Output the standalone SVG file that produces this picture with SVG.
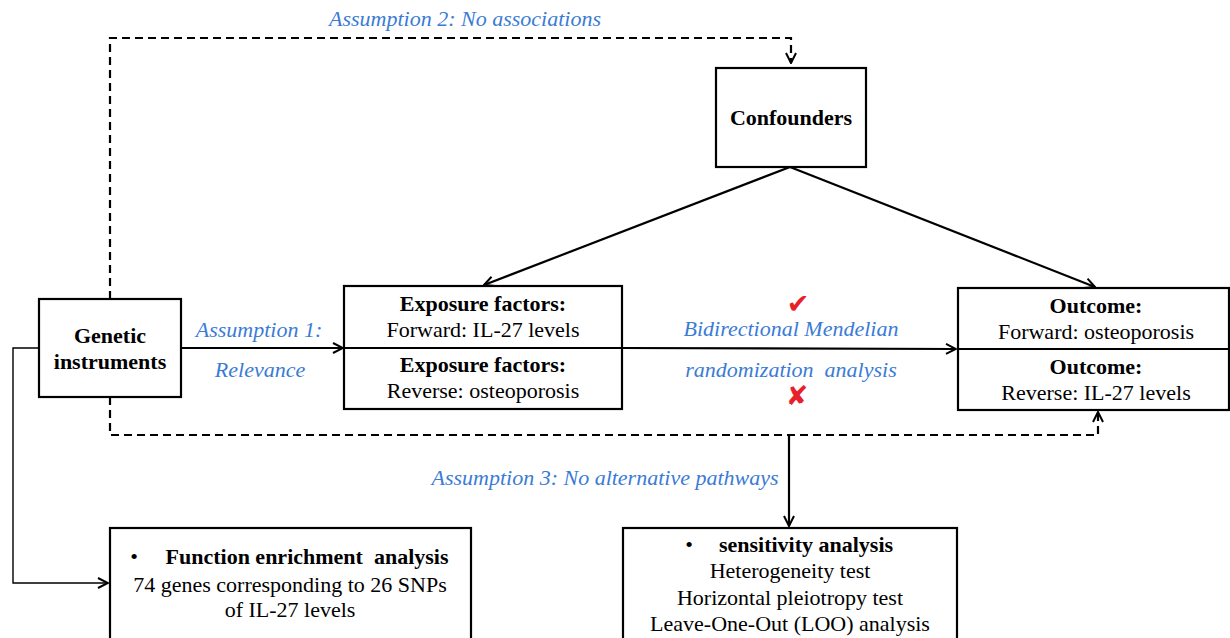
<svg xmlns="http://www.w3.org/2000/svg" width="1230" height="638" viewBox="0 0 1230 638">
<defs>
<style>
.box{fill:#fff;stroke:#000;stroke-width:2.2}
.t{font-family:"Liberation Serif","Times New Roman",serif;font-size:22px;fill:#000;text-anchor:middle}
.b{font-weight:bold}
.a{font-family:"Liberation Serif","Times New Roman",serif;font-size:22px;font-style:italic;fill:#3a7bd5;text-anchor:middle}
.ln{fill:none;stroke:#000;stroke-width:2.2}
.dash{fill:none;stroke:#000;stroke-width:2.2;stroke-dasharray:8,5}
.mk{font-family:"DejaVu Sans",sans-serif;font-size:27px;fill:#e8202a;text-anchor:middle}
</style>
<marker id="arr" viewBox="0 0 12 12" refX="11" refY="6" markerWidth="12" markerHeight="12" markerUnits="userSpaceOnUse" orient="auto">
<polyline points="1,1 11,6 1,11" fill="none" stroke="#000" stroke-width="2"/>
</marker>
</defs>
<rect width="1230" height="638" fill="#fff"/>

<g id="connectors">
<polyline class="dash" points="110,299 110,38 791,38 791,63" marker-end="url(#arr)"/>
<polyline class="dash" points="110,397 110,435 1098,435 1098,412" marker-end="url(#arr)"/>
<line class="ln" x1="181" y1="348" x2="343" y2="348" marker-end="url(#arr)"/>
<line class="ln" x1="622" y1="348" x2="956" y2="349" marker-end="url(#arr)"/>
<line class="ln" x1="790" y1="167" x2="484" y2="285" marker-end="url(#arr)"/>
<line class="ln" x1="790" y1="167" x2="1095" y2="287" marker-end="url(#arr)"/>
<line class="ln" x1="789" y1="435" x2="789" y2="526" marker-end="url(#arr)"/>
<polyline fill="none" stroke="#000" stroke-width="1.4" points="39,348 13,348 13,583 108,583" marker-end="url(#arr)"/>
</g>

<g id="labels">
<text class="a" x="465" y="26">Assumption 2: No associations</text>
<text class="a" x="259" y="337">Assumption 1:</text>
<text class="a" x="260" y="377">Relevance</text>
<text class="a" x="791" y="336">Bidirectional Mendelian</text>
<text class="a" x="791" y="377" xml:space="preserve">randomization  analysis</text>
<text class="a" x="605" y="485">Assumption 3: No alternative pathways</text>
<text class="mk" x="798" y="313">✔</text>
<text class="mk" x="797" y="405">✘</text>
</g>

<g id="confounders">
<rect class="box" x="716" y="68" width="150" height="99"/>
<text class="t b" x="791" y="125">Confounders</text>
</g>

<g id="genetic">
<rect class="box" x="39" y="299" width="142" height="98"/>
<text class="t b" x="110" y="343">Genetic</text>
<text class="t b" x="110" y="369">instruments</text>
</g>

<g id="exposure">
<rect class="box" x="344" y="286" width="278" height="123"/>
<line class="ln" x1="344" y1="348" x2="622" y2="348"/>
<text class="t b" x="483" y="311">Exposure factors:</text>
<text class="t" x="483" y="337">Forward: IL-27 levels</text>
<text class="t b" x="483" y="372">Exposure factors:</text>
<text class="t" x="483" y="398">Reverse: osteoporosis</text>
</g>

<g id="outcome">
<rect class="box" x="958" y="288" width="271" height="122"/>
<line class="ln" x1="958" y1="349" x2="1229" y2="349"/>
<text class="t b" x="1096" y="313">Outcome:</text>
<text class="t" x="1096" y="339">Forward: osteoporosis</text>
<text class="t b" x="1096" y="374">Outcome:</text>
<text class="t" x="1096" y="400">Reverse: IL-27 levels</text>
</g>

<g id="function">
<rect class="box" x="110" y="528" width="361" height="120"/>
<text class="t" x="134" y="564">•</text>
<text class="t b" x="307" y="564" xml:space="preserve">Function enrichment  analysis</text>
<text class="t" x="290" y="592">74 genes corresponding to 26 SNPs</text>
<text class="t" x="290" y="617">of IL-27 levels</text>
</g>

<g id="sensitivity">
<rect class="box" x="623" y="528" width="334" height="120"/>
<text class="t" x="689" y="552">•</text>
<text class="t b" x="806" y="552">sensitivity analysis</text>
<text class="t" x="790" y="578">Heterogeneity test</text>
<text class="t" x="790" y="605">Horizontal pleiotropy test</text>
<text class="t" x="790" y="631">Leave-One-Out (LOO) analysis</text>
</g>
</svg>
